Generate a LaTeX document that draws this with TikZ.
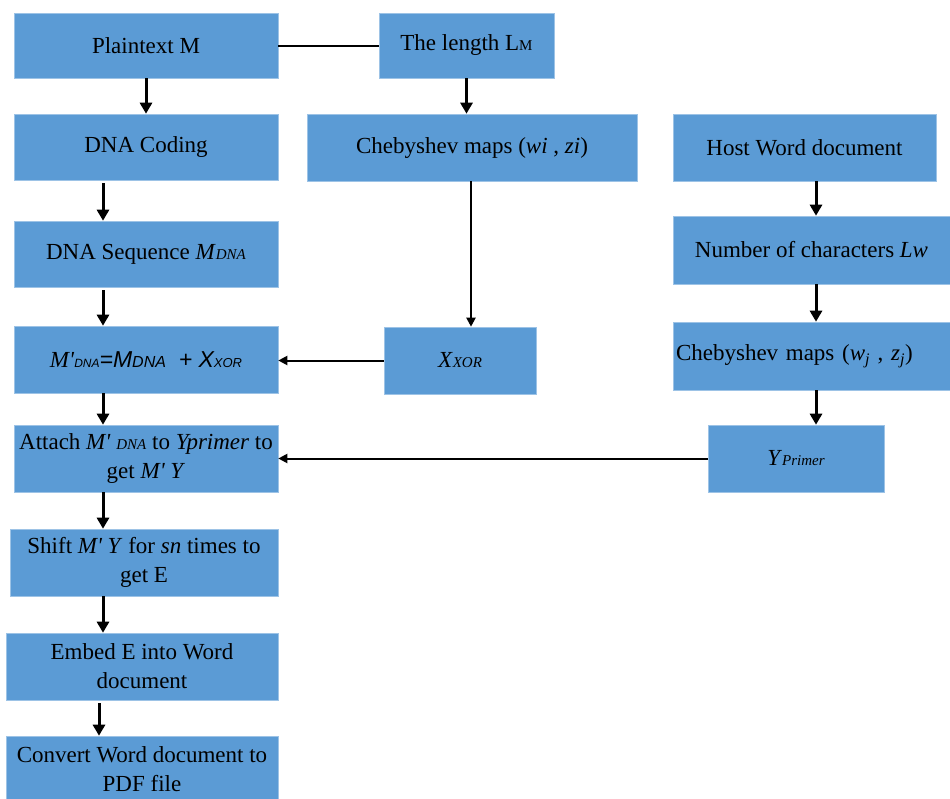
\documentclass[tikz,border=0pt]{standalone}
\usepackage{fontspec}
\setmainfont{Liberation Serif}[Ligatures=TeXOff]
\newfontfamily\sansit{Liberation Sans}
\usetikzlibrary{arrows.meta}
\definecolor{boxblue}{HTML}{5B9BD5}
\newcommand{\smalltxt}[1]{{\fontsize{15}{15}\selectfont #1}}
\begin{document}
\begin{tikzpicture}[x=1pt,y=-1pt,
  box/.style={fill=boxblue, draw=boxblue!60!white, line width=0.6pt,
    inner sep=2pt, align=center, anchor=center,
    font=\fontsize{23}{29}\selectfont},
  flow/.style={line width=3pt, -{Triangle[length=11pt,width=12pt]}},
  link/.style={line width=2pt, -{Triangle[length=9pt,width=9pt]}},
  plain/.style={line width=2pt}]
\useasboundingbox (0,0) rectangle (950,798);

% left column
\node[box, minimum width=264pt, minimum height=65pt] (pt) at (146,45.5) {Plaintext M};
\node[box, minimum width=264pt, minimum height=66pt] (dc) at (146,147) {DNA Coding};
\node[box, minimum width=264pt, minimum height=66pt] (ds) at (146,254)
  {DNA Sequence \textit{M}\smalltxt{\textit{DNA}}};
\node[box, minimum width=264pt, minimum height=67pt] (md) at (146,359.5)
  {\textit{M'}{\sansit\itshape\fontsize{12}{12}\selectfont DNA}{\sansit\itshape =M\fontsize{16}{16}\selectfont DNA\fontsize{23}{23}\selectfont\ \ + X\fontsize{13}{13}\selectfont XOR}};
\node[box, minimum width=264pt, minimum height=67pt] (at) at (146,458.5)
  {Attach \textit{M'} \smalltxt{\textit{DNA}} to \textit{Yprimer} to\\get \textit{M' Y}};
\node[box, minimum width=268pt, minimum height=67pt] (sh) at (144,562.5)
  {Shift \textit{M' Y} for \textit{sn} times to\\get E};
\node[box, minimum width=272pt, minimum height=67pt] (em) at (142,666.5)
  {Embed E into Word\\document};
\node[box, minimum width=272pt, minimum height=66pt] (cv) at (142,769)
  {Convert Word document to\\PDF file};

% middle column
\node[box, minimum width=175pt, minimum height=65pt] (lm) at (466.5,45.5)
  {The length L\smalltxt{M}};
\node[box, minimum width=330pt, minimum height=67pt] (c1) at (472,147.5)
  {Chebyshev maps (\textit{wi} , \textit{zi})};
\node[box, minimum width=152pt, minimum height=67pt] (xr) at (460,360.5)
  {\textit{X}\smalltxt{\textit{XOR}}};

% right column
\node[box, minimum width=263pt, minimum height=67pt] (hw) at (804.5,147.5)
  {Host Word document};
\node[box, minimum width=277pt, minimum height=68pt] (nc) at (811.5,250)
  {Number of characters \textit{Lw}};
\node[box, minimum width=277pt, minimum height=68pt, align=left, text width=271pt] (c2) at (811.5,356)
  {Chebyshev maps (\textit{w}\textsubscript{\textit{j}} , \textit{z}\textsubscript{\textit{j}})};
\node[box, minimum width=176pt, minimum height=67pt] (yp) at (796,458.5)
  {\textit{Y}\smalltxt{\textit{Primer}}};

% connectors
\draw[flow] (pt.south) -- (dc.north);
\draw[plain] (pt.east) -- (lm.west);
\draw[flow] (lm.south) -- (c1.north -| lm.south);
\draw[flow] ([xshift=-43pt,yshift=-3pt]dc.south) -- ([xshift=-43pt]ds.north);
\draw[flow] ([xshift=-43pt,yshift=-3pt]ds.south) -- ([xshift=-43pt]md.north);
\draw[link] ([xshift=-1pt]c1.south) -- ([xshift=11pt]xr.north);
\draw[link] (xr.west) -- (md.east |- xr.west);
\draw[flow] ([xshift=-43pt]md.south) -- ([xshift=-43pt]at.north);
\draw[flow] ([xshift=11.5pt]hw.south) -- ([xshift=4.5pt]nc.north);
\draw[flow] ([xshift=4.5pt]nc.south) -- ([xshift=4.5pt]c2.north);
\draw[flow] ([xshift=4.5pt]c2.south) -- ([xshift=20pt]yp.north);
\draw[link] (yp.west) -- (at.east);
\draw[flow] ([xshift=-43pt]at.south) -- ([xshift=-41pt]sh.north);
\draw[flow] ([xshift=-41pt]sh.south) -- ([xshift=-39pt]em.north);
\draw[flow] ([xshift=-43pt,yshift=-3pt]em.south) -- ([xshift=-43pt]cv.north);
\end{tikzpicture}
\end{document}
